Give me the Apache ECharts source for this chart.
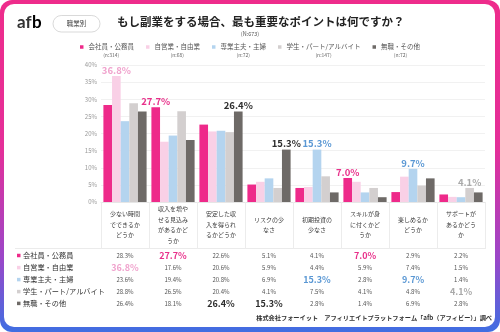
<!DOCTYPE html>
<html>
<head>
<meta charset="utf-8">
<script src="https://cdn.jsdelivr.net/npm/echarts@6/dist/echarts.min.js"></script>
<style>
  html, body { margin: 0; padding: 0; background: #fff; }
  #chart { width: 500px; height: 332px; }
</style>
</head>
<body>
<div id="chart"></div>
<script>
// Survey answers by occupation (percent of respondents)
const categories = [
  '少ない時間でできるかどうか',
  '収入を増やせる見込みがあるかどうか',
  '安定した収入を得られるかどうか',
  'リスクの少なさ',
  '初期投資の少なさ',
  'スキルが身に付くかどうか',
  '楽しめるかどうか',
  'サポートがあるかどうか'
];
const groupNames = ['会社員・公務員', '自営業・自由業', '専業主夫・主婦', '学生・パート/アルバイト', '無職・その他'];
const groupSizes = ['(n:314)', '(n:68)', '(n:72)', '(n:147)', '(n:72)'];
const employees  = [28.3, 27.7, 22.6, 5.1, 4.1, 7.0, 2.9, 2.2];
const selfEmployed = [36.8, 17.6, 20.6, 5.9, 4.4, 5.9, 7.4, 1.5];
const homemakers = [23.6, 19.4, 20.8, 6.9, 15.3, 2.8, 9.7, 1.4];
const students   = [28.8, 26.5, 20.4, 4.1, 7.5, 4.1, 4.8, 4.1];
const unemployed = [26.4, 18.1, 26.4, 15.3, 2.8, 1.4, 6.9, 2.8];
const yTicks = { min: 0, max: 40, step: 5 };

const values = [employees, selfEmployed, homemakers, students, unemployed];
const barColors = ['#ee2a8a', '#f9d0e6', '#b4d4ef', '#d3cfcf', '#6e6a67'];
const accentColors = ['#e8308a', '#f0a3cd', '#5b98d4', '#a9a9a9', '#2e2e2e'];
const FONT = '"Noto Sans CJK JP", "Noto Sans", sans-serif';
const LOGO_FONT = 'Lato, sans-serif';

// which group has the highest share in each category
const topGroup = categories.map((_, c) => {
  let best = 0;
  values.forEach((arr, g) => { if (arr[c] > values[best][c]) best = g; });
  return best;
});
const pct = v => v.toFixed(1) + '%';

const chart = echarts.init(document.getElementById('chart'), null, { renderer: 'canvas' });

const series = values.map((arr, g) => ({
  name: groupNames[g],
  type: 'bar',
  barGap: '0%',
  barCategoryGap: '10%',
  itemStyle: { color: barColors[g] },
  label: {
    position: 'top',
    distance: 1,
    fontFamily: FONT,
    fontSize: 9.5,
    fontWeight: 'bold',
    color: accentColors[g],
    formatter: p => pct(p.value)
  },
  data: arr.map((v, c) => ({ value: v, label: { show: topGroup[c] === g } }))
}));

const legendFont = 6.5;
chart.setOption({
  animation: false,
  textStyle: { fontFamily: FONT },
  title: [
    {
      text: 'もし副業をする場合、最も重要なポイントは何ですか？',
      left: 117, top: 16, padding: 0,
      textStyle: { fontFamily: FONT, fontSize: 11.5, fontWeight: 'bold', color: '#222' }
    },
    {
      text: '(N:673)',
      left: 'center', top: 31, padding: 0,
      textStyle: { fontFamily: FONT, fontSize: 5.5, fontWeight: 'normal', color: '#555' }
    }
  ],
  legend: {
    top: 43, left: 'center', padding: 0,
    icon: 'rect', itemWidth: 3.5, itemHeight: 3.5, itemGap: 12,
    selectedMode: false,
    textStyle: { fontFamily: FONT, fontSize: legendFont, color: '#555', lineHeight: 8 },
    data: groupNames
  },
  grid: { left: 101, right: 15, top: 65, bottom: 130 },
  xAxis: {
    type: 'category',
    data: categories,
    axisLine: { show: true, lineStyle: { color: '#e6e6e6' } },
    axisTick: { show: true, length: 47, lineStyle: { color: '#ececec' } },
    axisLabel: {
      interval: 0,
      fontFamily: FONT,
      fontSize: 6,
      color: '#3a3a3a',
      width: 33,
      overflow: 'break',
      lineHeight: 10.5,
      margin: 22.5,
      verticalAlign: 'middle'
    }
  },
  yAxis: {
    type: 'value',
    min: yTicks.min, max: yTicks.max, interval: yTicks.step,
    axisLine: { show: false },
    axisTick: { show: false },
    splitLine: { lineStyle: { color: '#f1f1f1' } },
    axisLabel: { fontFamily: FONT, fontSize: 6, color: '#999', margin: 4, formatter: '{value}%' }
  },
  series: series
});

// ---- decorations, legend sample sizes and the data table ----
const measure = (() => {
  const ctx = document.createElement('canvas').getContext('2d');
  return (text, size, weight, family) => {
    ctx.font = (weight || 'normal') + ' ' + size + 'px ' + (family || FONT);
    return ctx.measureText(text).width;
  };
})();

const els = [];

// gradient frame with white card
els.push({
  type: 'rect', z: -20, silent: true,
  shape: { x: 0, y: 0, width: 500, height: 332, r: 12 },
  style: {
    fill: new echarts.graphic.LinearGradient(0, 0, 0, 1, [
      { offset: 0, color: '#ee2c8b' },
      { offset: 0.45, color: '#e42f99' },
      { offset: 0.78, color: '#9a47c9' },
      { offset: 1, color: '#3f6ee2' }
    ])
  }
});
els.push({
  type: 'rect', z: -19, silent: true,
  shape: { x: 4, y: 4, width: 491, height: 323, r: 10 },
  style: { fill: '#ffffff' }
});

// logo and tag
const logoSize = 17;
const afWidth = measure('af', logoSize, 'bold', LOGO_FONT);
els.push({
  type: 'text', left: 17, top: 14,
  style: { text: 'af', fontFamily: LOGO_FONT, fontSize: logoSize, fontWeight: 'bold', fill: '#333' }
});
els.push({
  type: 'text', left: 17 + afWidth + 0.5, top: 14,
  style: {
    text: 'b', fontFamily: LOGO_FONT, fontSize: logoSize, fontWeight: 'bold',
    fill: new echarts.graphic.LinearGradient(0, 0, 0, 1, [
      { offset: 0, color: '#ee2c8b' }, { offset: 1, color: '#4a6ee0' }
    ])
  }
});
els.push({
  type: 'rect',
  shape: { x: 53, y: 15.5, width: 47, height: 16.5, r: 8.25 },
  style: { fill: '#fff', stroke: '#cfcfcf', lineWidth: 0.8 }
});
els.push({
  type: 'text', x: 76.5, y: 23.75,
  style: { text: '職業別', fontFamily: FONT, fontSize: 6.5, fill: '#444', align: 'center', verticalAlign: 'middle' }
});

// sample sizes under the legend entries (legend lays items out: icon, 5px, text, gap)
(function () {
  const widths = groupNames.map(n => 3.5 + 5 + measure(n, legendFont));
  const total = widths.reduce((a, b) => a + b, 0) + 12 * (groupNames.length - 1);
  let x = (500 - total) / 2;
  groupNames.forEach((n, i) => {
    const textStart = x + 3.5 + 5;
    const center = textStart + measure(n, legendFont) / 2;
    els.push({
      type: 'text', x: center, y: 55,
      style: { text: groupSizes[i], fontFamily: FONT, fontSize: 5, fill: '#666', align: 'center', verticalAlign: 'middle' }
    });
    x += widths[i] + 12;
  });
})();

// table under the axis
const rowY = [255.5, 267.6, 279.6, 291.6, 303.4];
els.push({
  type: 'line', silent: true,
  shape: { x1: 15, y1: 248.5, x2: 485, y2: 248.5 },
  style: { stroke: '#e6e6e6', lineWidth: 0.8 }
});
groupNames.forEach((n, g) => {
  els.push({
    type: 'rect',
    shape: { x: 17, y: rowY[g] - 1.75, width: 3.5, height: 3.5 },
    style: { fill: barColors[g] }
  });
  els.push({
    type: 'text', x: 23, y: rowY[g],
    style: { text: n, fontFamily: FONT, fontSize: 7.2, fill: '#333', verticalAlign: 'middle' }
  });
});
categories.forEach((cat, c) => {
  const cx = chart.convertToPixel({ xAxisIndex: 0 }, c);
  values.forEach((arr, g) => {
    const hot = topGroup[c] === g;
    els.push({
      type: 'text', x: cx, y: rowY[g],
      style: {
        text: pct(arr[c]), fontFamily: FONT,
        fontSize: hot ? 9 : 6,
        fontWeight: hot ? 'bold' : 'normal',
        fill: hot ? accentColors[g] : '#555',
        align: 'center', verticalAlign: 'middle'
      }
    });
  });
});

// source note
els.push({
  type: 'text', x: 492, y: 318,
  style: {
    text: '株式会社フォーイット　アフィリエイトプラットフォーム「afb（アフィビー）」調べ',
    fontFamily: FONT, fontSize: 6.2, fontWeight: 'bold', fill: '#333',
    align: 'right', verticalAlign: 'middle'
  }
});

chart.setOption({ graphic: { elements: els } });
</script>
</body>
</html>
